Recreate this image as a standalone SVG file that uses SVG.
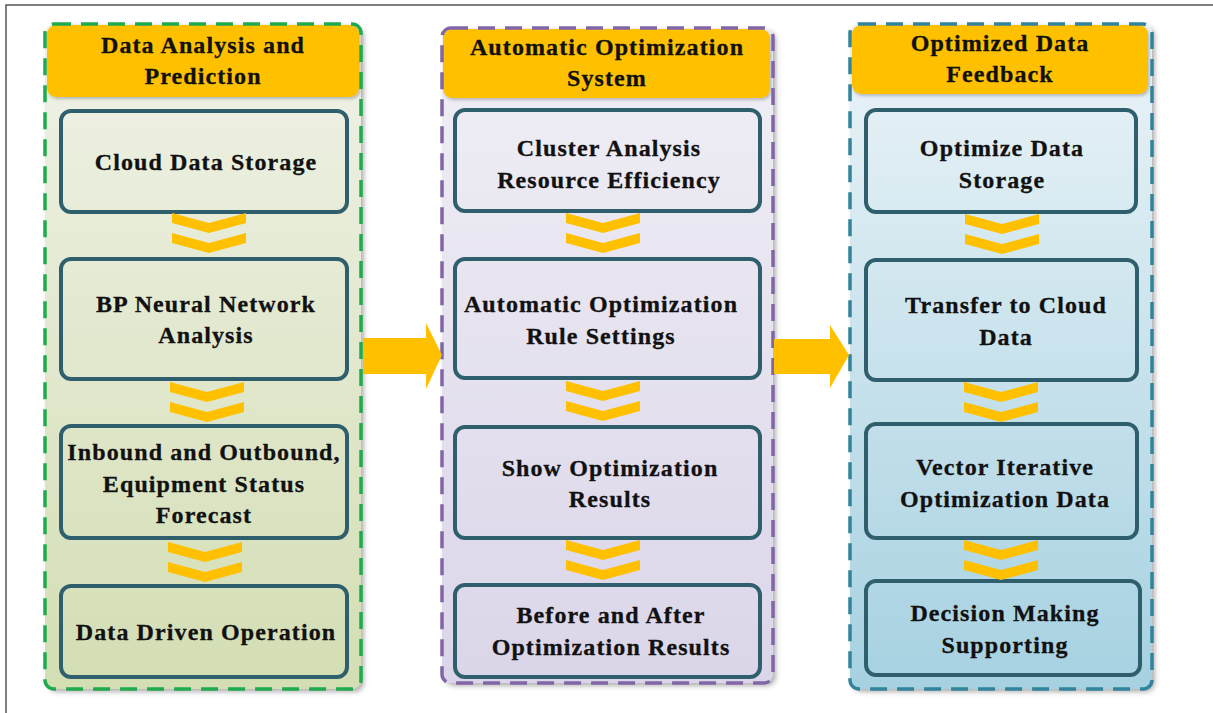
<svg xmlns="http://www.w3.org/2000/svg" xmlns:xlink="http://www.w3.org/1999/xlink" width="1213" height="713" viewBox="0 0 1213 713">
<style>
  text { font-family: "Liberation Serif", "Times New Roman", serif; font-weight: 700; font-size: 24px; fill: #111; stroke: #111; stroke-width: 0.3; text-anchor: middle; letter-spacing: 1.1px; }
  .node rect { stroke: #2f5f6c; stroke-width: 4; }
  .hdr { fill: #ffc000; }
  .dash { fill: none; stroke-width: 3.5; stroke-dasharray: 17 10; }
  .chev { fill: #ffc000; }
  .big { fill: #ffc000; }
</style>
<defs>
  <filter id="sh" x="-10%" y="-10%" width="130%" height="130%">
    <feDropShadow dx="3" dy="3" stdDeviation="2.5" flood-color="#555" flood-opacity="0.45"/>
  </filter>
  <filter id="shs" x="-10%" y="-10%" width="130%" height="130%">
    <feDropShadow dx="1.5" dy="2" stdDeviation="1.5" flood-color="#555" flood-opacity="0.35"/>
  </filter>
  <linearGradient id="g1" gradientUnits="userSpaceOnUse" x1="0" y1="24" x2="0" y2="690">
    <stop offset="0" stop-color="#f0f2e8"/>
    <stop offset="1" stop-color="#d3deb3"/>
  </linearGradient>
  <linearGradient id="g2" gradientUnits="userSpaceOnUse" x1="0" y1="28" x2="0" y2="684">
    <stop offset="0" stop-color="#f0eff5"/>
    <stop offset="1" stop-color="#dbd5e9"/>
  </linearGradient>
  <linearGradient id="g3" gradientUnits="userSpaceOnUse" x1="0" y1="24" x2="0" y2="690">
    <stop offset="0" stop-color="#ecf4f8"/>
    <stop offset="1" stop-color="#a6d1e1"/>
  </linearGradient>
  <path id="chev" d="M0,0 L37,10 L74,0 L74,10 L37,20 L0,10 Z"/>
</defs>

<rect x="6" y="5" width="1230" height="740" fill="#fff" stroke="#555" stroke-width="1.5"/>

<!-- Panels -->
<g id="panel1">
  <rect x="45" y="24" width="316" height="665" rx="9" fill="url(#g1)" filter="url(#sh)"/>
  <rect class="hdr" x="47" y="25" width="312" height="72" rx="9" filter="url(#shs)"/>
  <text x="203" y="53">Data Analysis and</text>
  <text x="203" y="84">Prediction</text>
  <rect class="dash" x="45" y="24" width="316" height="665" rx="9" stroke="#1faa4c"/>
</g>
<g id="panel2">
  <rect x="442" y="28" width="331" height="655" rx="9" fill="url(#g2)" filter="url(#sh)"/>
  <rect class="hdr" x="443" y="29" width="327" height="69" rx="9" filter="url(#shs)"/>
  <text x="607" y="55">Automatic Optimization</text>
  <text x="607" y="86">System</text>
  <rect class="dash" x="442" y="28" width="331" height="655" rx="9" stroke="#8165a8"/>
</g>
<g id="panel3">
  <rect x="850" y="24" width="302" height="665" rx="9" fill="url(#g3)" filter="url(#sh)"/>
  <rect class="hdr" x="852" y="25" width="296" height="69" rx="9" filter="url(#shs)"/>
  <text x="1000" y="51">Optimized Data</text>
  <text x="1000" y="82">Feedback</text>
  <rect class="dash" x="850" y="24" width="302" height="665" rx="9" stroke="#31849b"/>
</g>

<!-- Column 1 nodes -->
<g id="n1" class="node">
  <rect x="61" y="111" width="286" height="101" rx="10" fill="url(#g1)"/>
  <text x="206" y="170">Cloud Data Storage</text>
</g>
<g id="n2" class="node">
  <rect x="61" y="259" width="286" height="120" rx="10" fill="url(#g1)"/>
  <text x="206" y="312">BP Neural Network</text>
  <text x="206" y="343">Analysis</text>
</g>
<g id="n3" class="node">
  <rect x="61" y="426" width="286" height="112" rx="10" fill="url(#g1)"/>
  <text x="204" y="460">Inbound and Outbound,</text>
  <text x="204" y="492">Equipment Status</text>
  <text x="204" y="523">Forecast</text>
</g>
<g id="n4" class="node">
  <rect x="61" y="586" width="286" height="91" rx="10" fill="url(#g1)"/>
  <text x="206" y="640">Data Driven Operation</text>
</g>

<!-- Column 2 nodes -->
<g id="n5" class="node">
  <rect x="455" y="110" width="305" height="101" rx="10" fill="url(#g2)"/>
  <text x="609" y="156">Cluster Analysis</text>
  <text x="609" y="188">Resource Efficiency</text>
</g>
<g id="n6" class="node">
  <rect x="455" y="259" width="305" height="119" rx="10" fill="url(#g2)"/>
  <text x="601" y="312">Automatic Optimization</text>
  <text x="601" y="344">Rule Settings</text>
</g>
<g id="n7" class="node">
  <rect x="455" y="427" width="305" height="111" rx="10" fill="url(#g2)"/>
  <text x="610" y="476">Show Optimization</text>
  <text x="610" y="507">Results</text>
</g>
<g id="n8" class="node">
  <rect x="455" y="585" width="305" height="92" rx="10" fill="url(#g2)"/>
  <text x="611" y="623">Before and After</text>
  <text x="611" y="655">Optimization Results</text>
</g>

<!-- Column 3 nodes -->
<g id="n9" class="node">
  <rect x="866" y="110" width="270" height="102" rx="10" fill="url(#g3)"/>
  <text x="1002" y="156">Optimize Data</text>
  <text x="1002" y="188">Storage</text>
</g>
<g id="n10" class="node">
  <rect x="866" y="260" width="271" height="120" rx="10" fill="url(#g3)"/>
  <text x="1006" y="313">Transfer to Cloud</text>
  <text x="1006" y="345">Data</text>
</g>
<g id="n11" class="node">
  <rect x="866" y="424" width="271" height="114" rx="10" fill="url(#g3)"/>
  <text x="1005" y="475">Vector Iterative</text>
  <text x="1005" y="507">Optimization Data</text>
</g>
<g id="n12" class="node">
  <rect x="866" y="581" width="274" height="94" rx="10" fill="url(#g3)"/>
  <text x="1005" y="621">Decision Making</text>
  <text x="1005" y="653">Supporting</text>
</g>

<!-- Connectors -->
<g id="connectors">
  <use href="#chev" class="chev" x="172" y="213"/>
  <use href="#chev" class="chev" x="172" y="233"/>
  <use href="#chev" class="chev" x="170" y="382"/>
  <use href="#chev" class="chev" x="170" y="402"/>
  <use href="#chev" class="chev" x="168" y="542"/>
  <use href="#chev" class="chev" x="168" y="562"/>

  <use href="#chev" class="chev" x="566" y="213"/>
  <use href="#chev" class="chev" x="566" y="233"/>
  <use href="#chev" class="chev" x="566" y="381"/>
  <use href="#chev" class="chev" x="566" y="401"/>
  <use href="#chev" class="chev" x="566" y="540"/>
  <use href="#chev" class="chev" x="566" y="560"/>

  <use href="#chev" class="chev" x="965" y="214"/>
  <use href="#chev" class="chev" x="965" y="234"/>
  <use href="#chev" class="chev" x="964" y="382"/>
  <use href="#chev" class="chev" x="964" y="402"/>
  <use href="#chev" class="chev" x="964" y="540"/>
  <use href="#chev" class="chev" x="964" y="560"/>

  <path class="big" d="M363,338 L426,338 L426,323 L442,355 L426,389 L426,374 L363,374 Z"/>
  <path class="big" d="M774,339 L830,339 L830,325 L849,355 L830,388 L830,374 L774,374 Z"/>
</g>
</svg>
